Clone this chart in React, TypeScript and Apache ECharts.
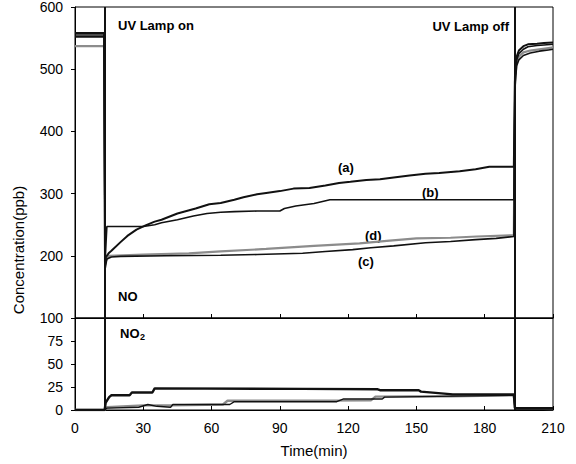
import React, { useEffect, useRef } from "react";
import * as echarts from "echarts";

// ---- Data (time in min, concentration in ppb) ----
const LAMP_ON = 13;
const LAMP_OFF = 193;
const X_TICKS = [0, 30, 60, 90, 120, 150, 180, 210];

// NO, series (a)
const T_A = [0, 12.8, 13.2, 13.6, 15, 16, 20, 23, 27, 31, 35, 38, 45, 53, 59, 64, 70, 74, 80, 84, 90, 96, 103, 110, 116, 121, 128, 134, 140, 147, 154, 160, 169, 176, 182, 192.8, 193.3, 194, 195, 197, 199, 203, 206, 210];
const NO_A = [558, 558, 185, 198, 205, 208, 222, 232, 242, 249, 255, 258, 268, 276, 283, 285, 290, 294, 299, 301, 304, 308, 309, 313, 317, 319, 322, 323, 326, 329, 332, 333, 336, 339, 343, 343, 490, 520, 530, 537, 540, 541, 542, 543];

// NO, series (b)
const T_B = [0, 12.8, 13.2, 14, 30, 35, 38, 45, 52, 58, 64, 70, 80, 90, 92, 97, 105, 112, 192.8, 193.3, 194, 195, 197, 199, 203, 206, 210];
const NO_B = [555, 555, 190, 247, 247, 250, 253, 258, 264, 268, 270, 271, 272, 272, 276, 280, 284, 290, 290, 485, 515, 525, 532, 536, 538, 539, 540];

// NO, series (c)
const T_C = [0, 12.8, 13.2, 14, 16, 20, 40, 64, 80, 100, 110, 122, 130, 140, 154, 165, 176, 185, 192.8, 193.3, 194, 195, 197, 200, 204, 208, 210];
const NO_C = [552, 552, 178, 195, 198, 199, 200, 201, 202, 204, 207, 210, 213, 216, 221, 223, 226, 228, 231, 470, 505, 515, 522, 526, 529, 531, 532];

// NO, series (d)
const T_D = [0, 12.8, 13.2, 15, 30, 50, 64, 84, 105, 125, 137, 150, 165, 176.5, 192.8, 193.3, 194, 195, 197, 200, 204, 208, 210];
const NO_D = [537, 537, 190, 200, 202, 204, 207, 211, 216, 220, 224, 228, 229, 231, 233, 480, 510, 520, 527, 530, 532, 534, 535];

// NO2 series
const T_N1 = [0, 13, 13.5, 15, 16, 24, 25, 34, 35, 100, 133, 134, 151, 152, 166, 192.8, 193.3, 210];
const NO2_1 = [0, 0, 8, 14, 16, 16, 19, 19, 23.5, 23, 22.5, 21.5, 21.5, 20, 17, 17, 2, 2];
const T_N2 = [0, 13, 14, 30, 42, 65, 67, 130, 132, 165, 192.8, 193.3, 210];
const NO2_2 = [0, 0, 3, 5, 5, 6, 10, 10.5, 14.5, 15, 16, 2, 1];
const T_N3 = [0, 13, 14, 28, 32, 36, 42, 43, 68, 70, 115, 118, 135, 136, 192.8, 193.3, 210];
const NO2_3 = [0, 0, 2, 3, 6, 4, 3, 6, 6, 9, 9, 12, 12, 14, 16, 1, 1];

const zip = (t: number[], v: number[]) => t.map((x, i) => [x, v[i]]);

const FONT = "Liberation Sans, Arial, sans-serif";
const BLACK = "#111111";
const GREY = "#8c8c8c";

export default function App() {
  const ref = useRef<HTMLDivElement>(null);

  useEffect(() => {
    if (!ref.current) return;
    const chart = echarts.init(ref.current, null, { renderer: "svg" });

    const axisLabel = { color: "#000", fontSize: 14, fontFamily: FONT };
    const vLines = {
      symbol: "none",
      silent: true,
      label: { show: false },
      lineStyle: { color: BLACK, width: 2, type: "solid" },
      data: [{ xAxis: LAMP_ON }, { xAxis: LAMP_OFF }],
    };

    const line = (name: string, t: number[], v: number[], color: string, width: number, idx: number, extra: any = {}) => ({
      name,
      type: "line",
      xAxisIndex: idx,
      yAxisIndex: idx,
      data: zip(t, v),
      showSymbol: false,
      symbol: "none",
      lineStyle: { color, width },
      z: color === GREY ? 3 : 4,
      ...extra,
    });

    const text = (x: number, y: number, s: string, align: string = "left") => ({
      type: "text",
      x,
      y,
      style: {
        text: s,
        fill: "#000",
        font: `bold 13px ${FONT}`,
        textAlign: align,
        textVerticalAlign: "middle",
      },
    });

    chart.setOption({
      animation: false,
      backgroundColor: "#fff",
      grid: [
        { left: 75, top: 7, width: 478, height: 311, show: true, borderColor: "#000", borderWidth: 1 },
        { left: 75, top: 318, width: 478, height: 92, show: true, borderColor: "#000", borderWidth: 1 },
      ],
      xAxis: [
        {
          gridIndex: 0, type: "value", min: X_TICKS[0], max: X_TICKS[X_TICKS.length - 1], interval: 30,
          axisLine: { lineStyle: { color: "#000" } },
          axisTick: { inside: true, length: 4, lineStyle: { color: "#000" } },
          axisLabel: { show: false },
          splitLine: { show: false },
        },
        {
          gridIndex: 1, type: "value", min: X_TICKS[0], max: X_TICKS[X_TICKS.length - 1], interval: 30,
          axisLine: { lineStyle: { color: "#000" } },
          axisTick: { inside: true, length: 4, lineStyle: { color: "#000" } },
          axisLabel: { ...axisLabel, margin: 11 },
          splitLine: { show: false },
          name: "Time(min)",
          nameLocation: "middle",
          nameGap: 33,
          nameTextStyle: { color: "#000", fontSize: 15, fontFamily: FONT },
        },
      ],
      yAxis: [
        {
          gridIndex: 0, type: "value", min: 100, max: 600, interval: 100,
          axisLine: { show: true, lineStyle: { color: "#000" } },
          axisTick: { show: true, length: 4, lineStyle: { color: "#000" } },
          axisLabel: { ...axisLabel, margin: 12 },
          splitLine: { show: false },
        },
        {
          gridIndex: 1, type: "value", min: 0, max: 100, interval: 25,
          axisLine: { show: true, lineStyle: { color: "#000" } },
          axisTick: { show: true, length: 4, lineStyle: { color: "#000" } },
          axisLabel: { ...axisLabel, margin: 12, formatter: (v: number) => (v === 100 ? "" : String(v)) },
          splitLine: { show: false },
        },
      ],
      series: [
        line("(d)", T_D, NO_D, GREY, 2.2, 0, { markLine: vLines }),
        line("(c)", T_C, NO_C, BLACK, 1.6, 0),
        line("(b)", T_B, NO_B, BLACK, 1.6, 0),
        line("(a)", T_A, NO_A, BLACK, 2, 0),
        line("NO2 grey", T_N2, NO2_2, GREY, 2.4, 1, { markLine: vLines }),
        line("NO2 thin", T_N3, NO2_3, BLACK, 1.4, 1),
        line("NO2 thick", T_N1, NO2_1, BLACK, 2.4, 1),
      ],
      graphic: [
        text(118, 25, "UV Lamp on"),
        text(509, 26, "UV Lamp off", "right"),
        text(338, 167, "(a)"),
        text(422, 192, "(b)"),
        text(365, 235, "(d)"),
        text(358, 261, "(c)"),
        text(118, 296, "NO"),
        {
          type: "group",
          children: [
            text(120, 333, "NO"),
            {
              type: "text", x: 140, y: 337,
              style: { text: "2", fill: "#000", font: `bold 9px ${FONT}`, textVerticalAlign: "middle" },
            },
          ],
        },
        {
          type: "text",
          x: 18,
          y: 250,
          rotation: Math.PI / 2,
          style: {
            text: "Concentration(ppb)",
            fill: "#000",
            font: `15px ${FONT}`,
            textAlign: "center",
            textVerticalAlign: "middle",
          },
        },
      ],
    });

    return () => chart.dispose();
  }, []);

  return <div ref={ref} style={{ position: "fixed", left: 0, top: 0, width: 576, height: 464 }} />;
}
